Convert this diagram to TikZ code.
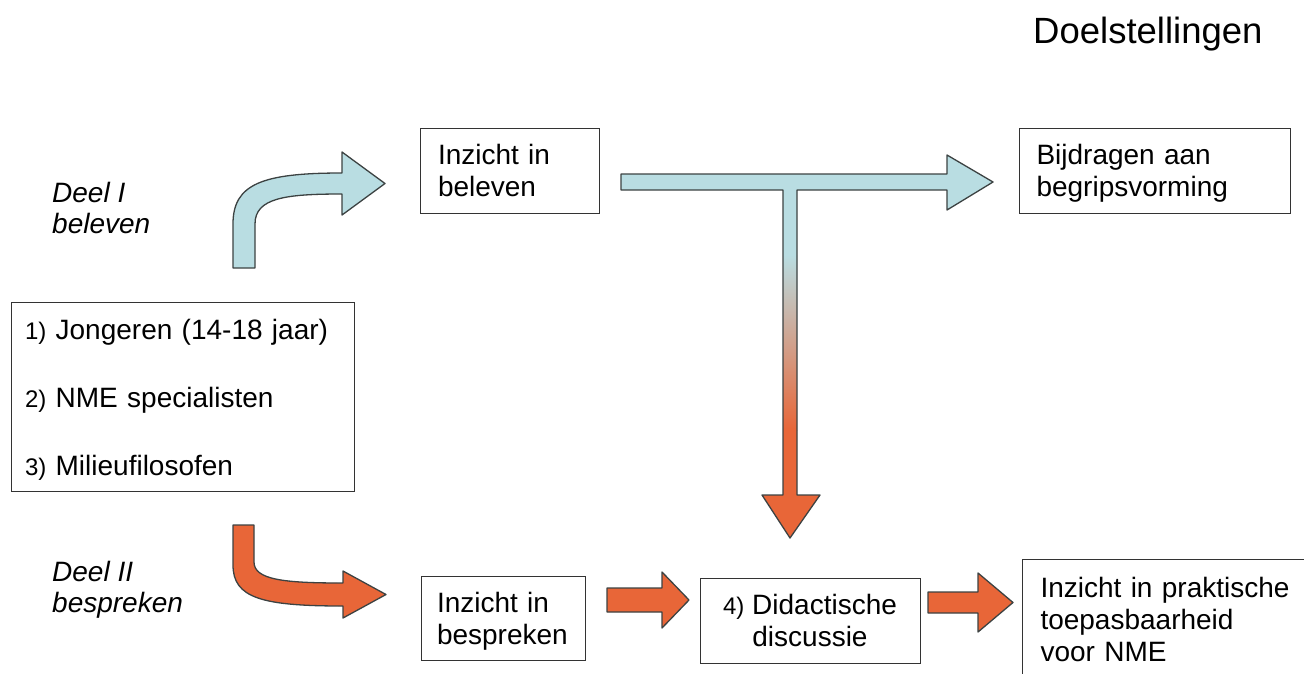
\documentclass[tikz,border=0pt]{standalone}
\usepackage{fontspec}
\setmainfont{Liberation Sans}
\definecolor{lblue}{RGB}{185,221,226}
\definecolor{dorange}{RGB}{232,102,56}
\definecolor{edgecol}{RGB}{60,66,66}
\tikzset{
  box/.style={draw=black!80, line width=1pt, fill=white, rectangle, inner ysep=0pt,
    font=\fontsize{28}{32}\selectfont, align=left},
  lbl/.style={font=\fontsize{28}{31}\selectfont\itshape, align=left, inner sep=0pt},
  barrow/.style={fill=lblue, draw=edgecol, line width=1.3pt, line join=round},
  oarrow/.style={fill=dorange, draw=edgecol, line width=1.3pt, line join=round},
}
\newcommand{\smallnum}[1]{{\fontsize{24}{32}\selectfont #1}}
\begin{document}
\begin{tikzpicture}[x=1pt,y=-1pt]
\useasboundingbox (0,0) rectangle (1304,673);
\clip (0,0) rectangle (1304,673);

% title
\node[anchor=base west, inner sep=0pt, font=\fontsize{36.5}{40}\selectfont] (title) at (1033,43) {Doelstellingen};

% side labels (base = last line)
\node[lbl, anchor=base west] (deel1) at (52,233) {Deel I\\beleven};
\node[lbl, anchor=base west] (deel2) at (52,612) {Deel II\\bespreken};

% boxes
\node[box, minimum width=179pt, minimum height=85pt, text width=144pt, inner xsep=17.5pt] (b1) at (510,170.5) {Inzicht in\\beleven};
\node[box, minimum width=271pt, minimum height=85pt, text width=236pt, inner xsep=17.5pt, text depth=32pt] (b2) at (1154.5,170.5) {Bijdragen aan\\begripsvorming};
\node[box, minimum width=343pt, minimum height=189pt, text width=315pt, inner xsep=14pt, text height=26pt] (grp) at (182.5,396.5)
  {\smallnum{1)} Jongeren (14-18 jaar)\\[36pt]\smallnum{2)} NME specialisten\\[36pt]\smallnum{3)} Milieufilosofen};
\node[box, minimum width=164pt, minimum height=84pt, text width=132pt, inner xsep=16pt, text depth=32pt] (b3) at (503,618) {Inzicht in\\bespreken};
\node[box, minimum width=220pt, minimum height=85pt, align=center] (b4) at (810,620.5) {\smallnum{4)} Didactische\\discussie};
\node[box, anchor=north west, text width=262pt, inner xsep=18pt, inner ysep=18pt] (b5) at (1022,559)
  {Inzicht in praktische\\toepasbaarheid\\voor NME};

% blue curved arrow (Deel I)
\draw[barrow] (233,268) -- (233,224) .. controls (233,184) and (262,173) .. (342,173)
  -- (342,152) -- (385,183.5) -- (342,215) -- (342,194)
  .. controls (285,194) and (255,198) .. (255,224) -- (255,268) -- cycle;

% orange curved arrow (Deel II)
\draw[oarrow] (233,525) -- (233,565) .. controls (233,598) and (262,606) .. (343,606)
  -- (343,618) -- (386,594.5) -- (343,571) -- (343,583)
  .. controls (285,583) and (254,580) .. (254,562) -- (254,525) -- cycle;

% T arrow with gradient
\def\tpath{(621,174) -- (947,174) -- (947,155) -- (993,182) -- (947,210) -- (947,190)
  -- (797,190) -- (797,495) -- (820,495) -- (790,538) -- (762,495) -- (783,495)
  -- (783,190) -- (621,190) -- cycle}
\fill[lblue] \tpath;
\begin{scope}
  \clip \tpath;
  \shade[top color=lblue, bottom color=dorange] (755,255) rectangle (830,430);
  \fill[dorange] (755,430) rectangle (830,545);
\end{scope}
\draw[draw=edgecol, line width=1.3pt, line join=round] \tpath;

% small orange arrows
\draw[oarrow] (607,588) -- (662,588) -- (662,572) -- (689,600) -- (662,628) -- (662,612) -- (607,612) -- cycle;
\draw[oarrow] (928,592) -- (978,592) -- (978,573) -- (1013,602.5) -- (978,632) -- (978,613) -- (928,613) -- cycle;
\end{tikzpicture}
\end{document}
